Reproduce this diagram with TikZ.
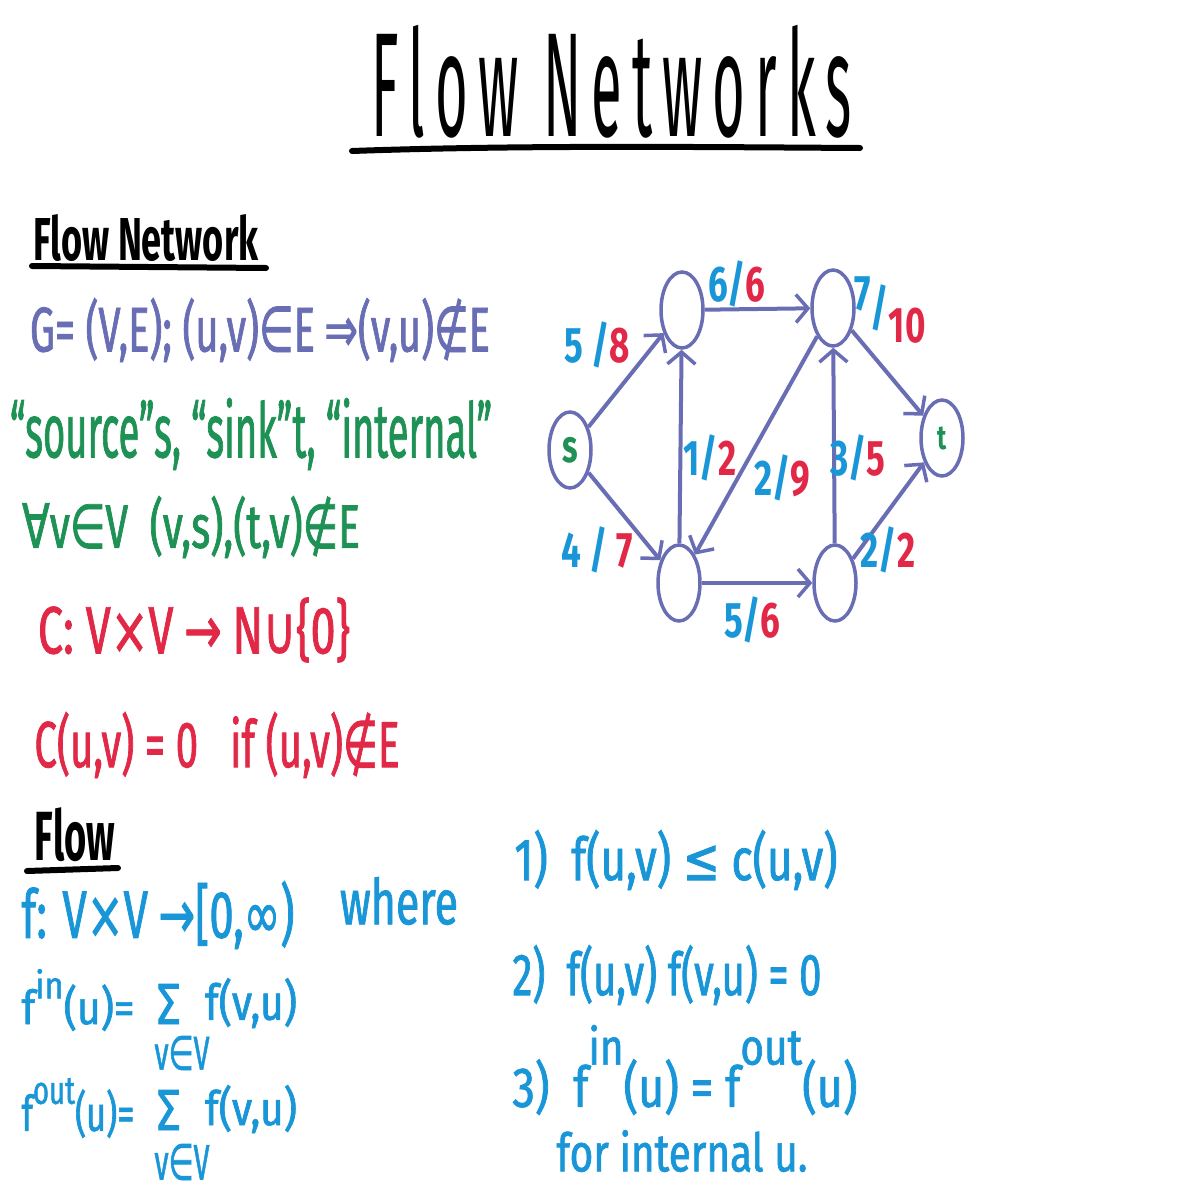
\documentclass[tikz,border=0pt]{standalone}
\usepackage{fontspec}
\usepackage{graphicx}
\setmainfont{Fira Sans}[FakeStretch=0.7,FakeBold=1.2]
\newfontfamily\titlef{Fira Sans}[LetterSpace=18]
\newfontfamily\headf{Fira Sans}[FakeStretch=0.7]
\newfontfamily\symf{DejaVu Sans}[FakeStretch=0.7,FakeBold=1.2]
\usetikzlibrary{shapes.geometric,arrows.meta}
\definecolor{slate}{RGB}{105,110,180}
\definecolor{gcol}{RGB}{30,145,85}
\definecolor{rcol}{RGB}{225,40,70}
\definecolor{ccol}{RGB}{25,150,215}
\newcommand\fitbox[3]{\resizebox*{#1pt}{#2pt}{#3}}
\newcommand\sy[1]{{\symf #1}}
\newcommand\fl[2]{{\color{ccol}#1}{\color{rcol}#2}}
\begin{document}
\begin{tikzpicture}[x=1pt,y=-1pt,
  txt/.style={inner sep=0pt,anchor=center},
  vtx/.style={ellipse,draw=slate,line width=3.5pt,minimum width=42pt,minimum height=76pt,inner sep=0pt},
  edge/.style={draw=slate,line width=4pt,-{Straight Barb[length=12pt,width=28pt,line width=3.5pt]}},
  lab/.style={inner sep=0pt,font=\headf\fontsize{50}{50}\selectfont\bfseries},
  uline/.style={line width=6pt,line cap=round}]
\useasboundingbox (0,0) rectangle (1200,1200);
\fill[white] (0,0) rectangle (1200,1200);

% title
\node[txt] (title) at (612,82) {\fitbox{480}{113}{\titlef Flow Networks}};
\draw[uline] (352,151) .. controls (520,145) and (700,147) .. (860,148);

% Flow Network section
\node[txt] (hnet) at (146,238) {\fitbox{225}{47}{\headf\bfseries Flow Network}};
\draw[uline] (32,266) -- (266,268);
\node[txt,slate] (gline) at (260,330) {\fitbox{460}{64}{G= (V,E); (u,v)\sy{∈}E\,\sy{⇒}(v,u)\sy{∉}E}};
\node[txt,gcol] (srcline) at (251,434) {\fitbox{482}{72}{“source”s, “sink”t, “internal”}};
\node[txt,gcol] (forall) at (191,527) {\fitbox{338}{62}{\sy{∀}v\sy{∈}V\ \ (v,s),(t,v)\sy{∉}E}};
\node[txt,rcol] (cap1) at (194,630) {\fitbox{312}{65}{C: V\sy{×}V\,\sy{→}\,N\sy{∪}\{0\}}};
\node[txt,rcol] (cap2) at (217,745) {\fitbox{365}{66}{C(u,v) = 0\ \ \ if (u,v)\sy{∉}E}};

% Flow section
\node[txt] (hflow) at (75,835) {\fitbox{80}{54}{\headf\bfseries Flow}};
\draw[uline] (27,871) -- (118,868);
\node[txt,ccol] (fdef) at (158,915) {\fitbox{273}{68}{f: V\sy{×}V\,\sy{→}[0,\sy{∞})}};
\node[txt,ccol] (where) at (399,901) {\fitbox{118}{48}{where}};

\node[txt,ccol] (fin) at (78,1000) {\fitbox{113}{62}{f\raisebox{0.55em}{\footnotesize in}(u)=}};
\node[txt,ccol] (sig1) at (168,1004) {\fitbox{27}{40}{\sy{Σ}}};
\node[txt,ccol] (fvu1) at (251,1003) {\fitbox{92}{50}{f(v,u)}};
\node[txt,ccol] (sub1) at (182,1053) {\fitbox{55}{34}{v\sy{∈}V}};

\node[txt,ccol] (fout) at (78,1108) {\fitbox{113}{60}{f\raisebox{0.55em}{\footnotesize out}(u)=}};
\node[txt,ccol] (sig2) at (168,1110) {\fitbox{27}{40}{\sy{Σ}}};
\node[txt,ccol] (fvu2) at (251,1109) {\fitbox{92}{48}{f(v,u)}};
\node[txt,ccol] (sub2) at (182,1162) {\fitbox{55}{36}{v\sy{∈}V}};

% conditions
\node[txt,ccol] (cond1) at (676,860) {\fitbox{323}{60}{1)\ \ f(u,v) \sy{≤} c(u,v)}};
\node[txt,ccol] (cond2) at (667,975) {\fitbox{309}{60}{2)\ \ f(u,v) f(v,u) = 0}};
\node[txt,ccol] (cond3) at (685,1070) {\fitbox{345}{90}{3)\ \ f\raisebox{0.75em}{\small in}(u) = f\raisebox{0.75em}{\small out}(u)}};
\node[txt,ccol] (cond3b) at (682,1151) {\fitbox{251}{42}{for internal u.}};

% graph
\node[vtx] (ns) at (570,450) {};
\node[gcol,font=\headf\fontsize{46}{46}\selectfont\bfseries] at (ns) {s};
\node[vtx] (na) at (682,310) {};
\node[vtx] (nb) at (833,308) {};
\node[vtx] (nc) at (679,583) {};
\node[vtx] (nd) at (835,583) {};
\node[vtx] (nt) at (942,438) {};
\node[gcol,font=\headf\fontsize{34}{34}\selectfont\bfseries] at (nt) {t};

\draw[edge] (ns) -- (na);
\draw[edge] (ns) -- (nc);
\draw[edge] (na) -- (nb);
\draw[edge] (nb) -- (nt);
\draw[edge] (nc) -- (na);
\draw[edge] (nb) -- (nc);
\draw[edge] (nd) -- (nb);
\draw[edge] (nc) -- (nd);
\draw[edge] (nd) -- (nt);

\node[lab] (l58) at (597,345) {\fl{5 /}{8}};
\node[lab] (l47) at (597,550) {\fl{4 / }{7}};
\node[lab] (l66) at (737,284) {\fl{6/}{6}};
\node[lab] (l710) at (890,310) {\fl{\raisebox{0.3em}{7}/}{\raisebox{-0.35em}{10}}};
\node[lab] (l12) at (710,458) {\fl{1/}{2}};
\node[lab] (l29) at (782,478) {\fl{2/}{9}};
\node[lab] (l35) at (858,458) {\fl{3/}{5}};
\node[lab] (l56) at (752,620) {\fl{5/}{6}};
\node[lab] (l22) at (888,550) {\fl{2/}{2}};
\end{tikzpicture}
\end{document}
